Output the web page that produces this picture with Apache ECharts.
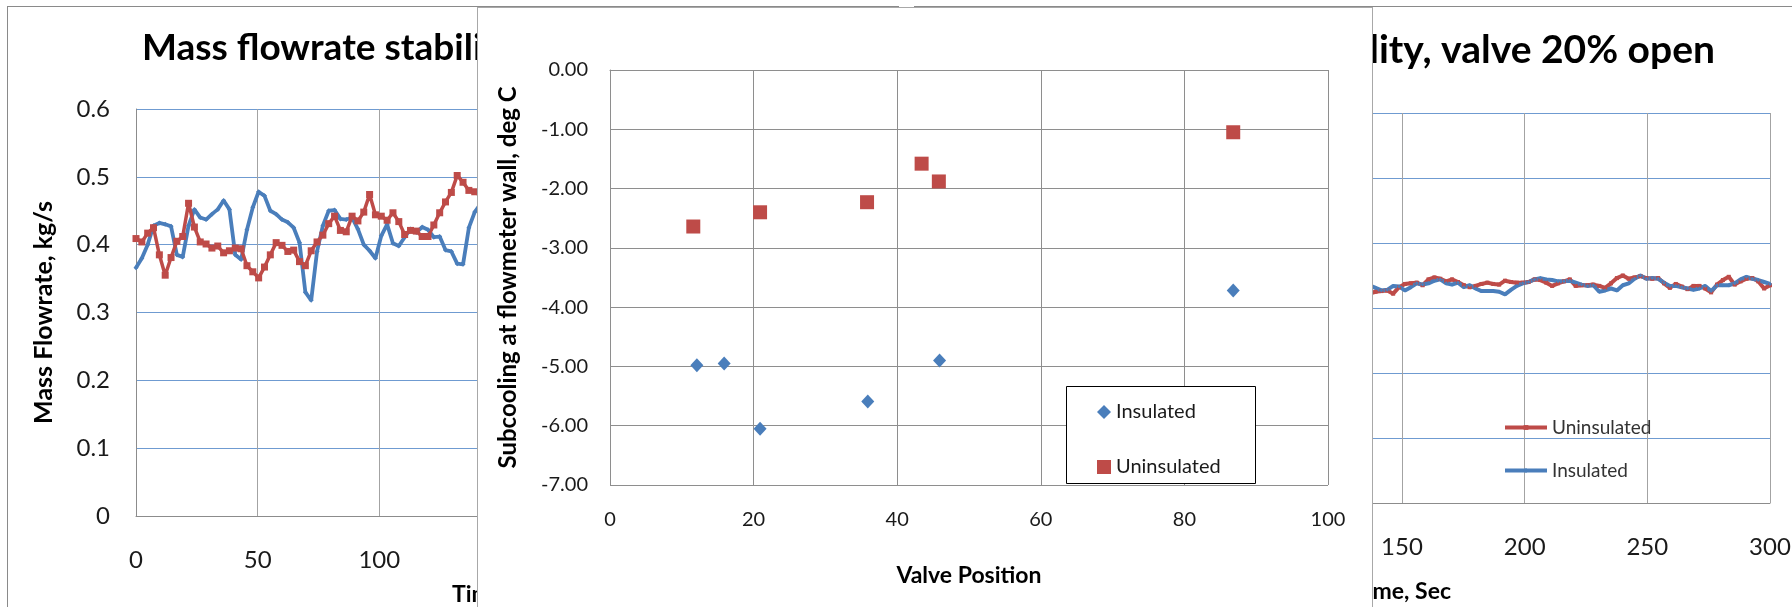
<!DOCTYPE html>
<html>
<head>
<meta charset="utf-8">
<title>Mass flowrate stability and flowmeter wall subcooling</title>
<script src="https://cdn.jsdelivr.net/npm/echarts@6/dist/echarts.min.js"></script>
<style>
  html, body { margin: 0; padding: 0; width: 1792px; height: 607px; overflow: hidden; background: #fff; }
  .panel { position: absolute; background: #fff; }
  #leftPanel { left: 7px; top: 6px; width: 890px; height: 640px; border: 1px solid #8a8a8a; }
  #rightPanel { left: 914px; top: 6px; width: 952px; height: 640px; border: 1px solid #8a8a8a; }
  #centerPanel { left: 477px; top: 7px; width: 894px; height: 640px; border: 1px solid #a8a8a8; }
  .chart { width: 100%; height: 100%; }
</style>
</head>
<body>
<div class="panel" id="leftPanel"><div class="chart" id="leftChart"></div></div>
<div class="panel" id="rightPanel"><div class="chart" id="rightChart"></div></div>
<div class="panel" id="centerPanel"><div class="chart" id="centerChart"></div></div>
<script>
// ---- time axis ticks (seconds) and flowrate ticks (kg/s) ----
const timeTicks = [0, 50, 100, 150, 200, 250, 300];
const flowTicks = [0, 0.1, 0.2, 0.3, 0.4, 0.5, 0.6];

// ---- first flowrate run ----
const runATime = [0, 2.4, 4.8, 7.2, 9.6, 12.0, 14.4, 16.8, 19.2, 21.6, 24.0, 26.4, 28.8, 31.2, 33.6,
  36.0, 38.4, 40.8, 43.2, 45.6, 48.0, 50.4, 52.8, 55.2, 57.6, 60.0, 62.4, 64.8, 67.2, 69.6,
  72.0, 74.4, 76.8, 79.2, 81.6, 84.0, 86.4, 88.8, 91.2, 93.6, 96.0, 98.4, 100.8, 103.2, 105.6,
  108.0, 110.4, 112.8, 115.2, 117.6, 120.0, 122.4, 124.8, 127.2, 129.6, 132.0, 134.4, 136.8, 139.2, 141.6];
const runAInsulated = [0.366, 0.380, 0.400, 0.428, 0.432, 0.430, 0.427, 0.385, 0.382, 0.428, 0.452, 0.440, 0.437, 0.445, 0.452,
  0.465, 0.452, 0.385, 0.378, 0.422, 0.455, 0.478, 0.472, 0.450, 0.445, 0.437, 0.433, 0.425, 0.403, 0.330,
  0.318, 0.390, 0.428, 0.450, 0.451, 0.438, 0.437, 0.440, 0.423, 0.400, 0.391, 0.380, 0.413, 0.430, 0.402,
  0.398, 0.411, 0.423, 0.418, 0.426, 0.422, 0.411, 0.412, 0.392, 0.390, 0.372, 0.371, 0.425, 0.448, 0.460];
const runAUninsulated = [0.409, 0.404, 0.417, 0.425, 0.385, 0.355, 0.381, 0.405, 0.412, 0.461, 0.426, 0.404, 0.401, 0.395, 0.398,
  0.388, 0.391, 0.395, 0.394, 0.369, 0.360, 0.351, 0.367, 0.385, 0.403, 0.399, 0.390, 0.392, 0.375, 0.369,
  0.391, 0.404, 0.414, 0.431, 0.442, 0.421, 0.419, 0.442, 0.435, 0.448, 0.474, 0.444, 0.442, 0.436, 0.447,
  0.434, 0.415, 0.421, 0.420, 0.412, 0.412, 0.429, 0.447, 0.463, 0.477, 0.502, 0.492, 0.480, 0.478, 0.472];

// ---- second flowrate run (valve 20% open) ----
const runBTime = [136.8, 139.2, 141.6, 144.0, 146.4, 148.8, 151.2, 153.6, 156.0, 158.4, 160.8, 163.2, 165.6, 168.0,
  170.4, 172.8, 175.2, 177.6, 180.0, 182.4, 184.8, 187.2, 189.6, 192.0, 194.4, 196.8, 199.2, 201.6,
  204.0, 206.4, 208.8, 211.2, 213.6, 216.0, 218.4, 220.8, 223.2, 225.6, 228.0, 230.4, 232.8, 235.2,
  237.6, 240.0, 242.4, 244.8, 247.2, 249.6, 252.0, 254.4, 256.8, 259.2, 261.6, 264.0, 266.4, 268.8,
  271.2, 273.6, 276.0, 278.4, 280.8, 283.2, 285.6, 288.0, 290.4, 292.8, 295.2, 297.6, 300.0];
const runBUninsulated = [0.322, 0.325, 0.326, 0.327, 0.322, 0.332, 0.337, 0.338, 0.339, 0.335, 0.344, 0.347, 0.345, 0.341,
  0.344, 0.340, 0.335, 0.332, 0.334, 0.337, 0.339, 0.337, 0.336, 0.342, 0.340, 0.339, 0.339, 0.340,
  0.344, 0.343, 0.339, 0.334, 0.338, 0.341, 0.344, 0.334, 0.335, 0.335, 0.336, 0.334, 0.331, 0.338,
  0.346, 0.350, 0.345, 0.347, 0.349, 0.346, 0.345, 0.346, 0.338, 0.331, 0.337, 0.333, 0.329, 0.334,
  0.334, 0.330, 0.324, 0.336, 0.343, 0.348, 0.336, 0.341, 0.345, 0.346, 0.341, 0.330, 0.335];
const runBInsulated = [0.335, 0.331, 0.327, 0.328, 0.334, 0.333, 0.327, 0.332, 0.338, 0.336, 0.338, 0.342, 0.344, 0.338,
  0.336, 0.339, 0.332, 0.335, 0.330, 0.326, 0.326, 0.326, 0.325, 0.321, 0.328, 0.334, 0.338, 0.340,
  0.344, 0.346, 0.344, 0.343, 0.341, 0.341, 0.342, 0.339, 0.336, 0.334, 0.335, 0.325, 0.327, 0.330,
  0.327, 0.335, 0.338, 0.345, 0.350, 0.345, 0.346, 0.345, 0.339, 0.334, 0.334, 0.332, 0.330, 0.328,
  0.330, 0.334, 0.326, 0.335, 0.335, 0.335, 0.338, 0.344, 0.348, 0.345, 0.343, 0.340, 0.337];

// ---- subcooling at flowmeter wall vs valve position ----
const valveTicks = [0, 20, 40, 60, 80, 100];
const subcoolTicks = [-7, -6, -5, -4, -3, -2, -1, 0];
const valveInsulated = [12.1, 15.9, 20.9, 35.9, 45.9, 86.8];
const subcoolInsulated = [-4.98, -4.95, -6.05, -5.59, -4.90, -3.72];
const valveUninsulated = [11.6, 20.9, 35.8, 43.4, 45.8, 86.8];
const subcoolUninsulated = [-2.64, -2.40, -2.23, -1.58, -1.88, -1.05];

// ---- shared styling ----
const BLUE = '#4A7EBB';
const RED = '#BE4B48';
const FONT = 'Lato';
const zip = (xs, ys) => xs.map((x, i) => [x, ys[i]]);
const step = t => t[1] - t[0];

function flowOption(cfg) {
  return {
    animation: false,
    title: Object.assign({
      text: 'Mass flowrate stability, valve 20% open',
      top: cfg.titleTop,
      padding: 0,
      textStyle: { fontFamily: FONT, fontWeight: 'bold', fontSize: cfg.titleSize, color: '#000' }
    }, cfg.titlePos),
    grid: cfg.grid,
    legend: cfg.legend,
    xAxis: {
      type: 'value',
      min: timeTicks[0], max: timeTicks[timeTicks.length - 1], interval: step(timeTicks),
      name: 'Time, Sec', nameLocation: 'middle', nameGap: cfg.xNameGap,
      nameTextStyle: { fontFamily: FONT, fontWeight: 'bold', fontSize: 23, color: '#000' },
      axisLine: { show: true, lineStyle: { color: '#8c8c8c', width: 1 } },
      axisTick: { show: false },
      axisLabel: { margin: 32, fontFamily: FONT, fontSize: 24, color: '#1a1a1a' },
      splitLine: { show: true, lineStyle: { color: '#a3a3a3', width: 1 } }
    },
    yAxis: {
      type: 'value',
      min: flowTicks[0], max: flowTicks[flowTicks.length - 1], interval: step(flowTicks),
      name: 'Mass Flowrate, kg/s', nameLocation: 'middle', nameGap: 80,
      nameTextStyle: { fontFamily: FONT, fontWeight: 'bold', fontSize: 25, color: '#000' },
      axisLine: { show: true, lineStyle: { color: '#8c8c8c', width: 1 } },
      axisTick: { show: false },
      axisLabel: { margin: 26, fontFamily: FONT, fontSize: 24, color: '#1a1a1a',
        formatter: v => (v === 0 ? '0' : v.toFixed(1)) },
      splitLine: { show: true, lineStyle: { color: '#6f9bd1', width: 1 } }
    },
    series: cfg.series
  };
}

function flowSeries(name, data, color, symbol, size, width) {
  return {
    name, type: 'line', data, showSymbol: true, symbol, symbolSize: size,
    lineStyle: { color, width },
    itemStyle: { color, opacity: 1 },
    emphasis: { disabled: true }
  };
}

// ---- first run chart (lower left) ----
const leftChart = echarts.init(document.getElementById('leftChart'), null, { renderer: 'canvas' });
leftChart.setOption(flowOption({
  titleTop: 23,
  titleSize: 37,
  titlePos: { left: 134 },
  grid: { left: 128, top: 102, width: 730, height: 407 },
  xNameGap: 67,
  legend: { show: false },
  series: [
    flowSeries('Insulated', zip(runATime, runAInsulated), BLUE, 'diamond', 5, 3.8),
    flowSeries('Uninsulated', zip(runATime, runAUninsulated), RED, 'rect', 7, 3.5)
  ]
}));

// ---- second run chart (right) ----
const rightChart = echarts.init(document.getElementById('rightChart'), null, { renderer: 'canvas' });
rightChart.setOption(flowOption({
  titleTop: 24,
  titleSize: 39,
  titlePos: { right: 152 },
  grid: { left: 119, top: 106, width: 736, height: 390 },
  xNameGap: 77,
  legend: {
    left: 588, top: 411, orient: 'vertical', padding: 0,
    itemWidth: 42, itemHeight: 6, itemGap: 24,
    lineStyle: { width: 4 },
    textStyle: { fontFamily: FONT, fontSize: 19, color: '#333' },
    data: ['Uninsulated', 'Insulated']
  },
  series: [
    flowSeries('Uninsulated', zip(runBTime, runBUninsulated), RED, 'rect', 4, 4),
    flowSeries('Insulated', zip(runBTime, runBInsulated), BLUE, 'diamond', 4, 4)
  ]
}));

// ---- subcooling scatter chart (front) ----
const centerChart = echarts.init(document.getElementById('centerChart'), null, { renderer: 'canvas' });
const gridGray = '#8e8e8e';
centerChart.setOption({
  animation: false,
  grid: { left: 132, top: 62, width: 718, height: 415 },
  graphic: [{
    type: 'rect', z: 3,
    shape: { x: 588.5, y: 378.5, width: 189, height: 97 },
    style: { fill: '#fff', stroke: '#000', lineWidth: 1 }
  }],
  legend: {
    left: 619, top: 394, orient: 'vertical', padding: 0, z: 5,
    itemWidth: 14, itemHeight: 14, itemGap: 35,
    textStyle: { fontFamily: FONT, fontSize: 20, color: '#1a1a1a' },
    data: [{ name: 'Insulated', icon: 'diamond' }, { name: 'Uninsulated', icon: 'rect' }]
  },
  xAxis: {
    type: 'value',
    min: valveTicks[0], max: valveTicks[valveTicks.length - 1], interval: step(valveTicks),
    name: 'Valve Position', nameLocation: 'middle', nameGap: 79,
    nameTextStyle: { fontFamily: FONT, fontWeight: 'bold', fontSize: 23, color: '#000' },
    axisLine: { show: true, lineStyle: { color: gridGray, width: 1 } },
    axisTick: { show: false },
    axisLabel: { margin: 25, fontFamily: FONT, fontSize: 20, color: '#1a1a1a' },
    splitLine: { show: true, lineStyle: { color: gridGray, width: 1 } }
  },
  yAxis: {
    type: 'value',
    min: subcoolTicks[0], max: subcoolTicks[subcoolTicks.length - 1], interval: step(subcoolTicks),
    name: 'Subcooling at flowmeter wall, deg C', nameLocation: 'middle', nameGap: 90,
    nameTextStyle: { fontFamily: FONT, fontWeight: 'bold', fontSize: 24, color: '#000' },
    axisLine: { show: true, lineStyle: { color: gridGray, width: 1 } },
    axisTick: { show: false },
    axisLabel: { margin: 22, fontFamily: FONT, fontSize: 20, color: '#1a1a1a',
      formatter: v => v.toFixed(2) },
    splitLine: { show: true, lineStyle: { color: gridGray, width: 1 } }
  },
  series: [
    { name: 'Insulated', type: 'scatter', symbol: 'diamond', symbolSize: [13, 14],
      data: zip(valveInsulated, subcoolInsulated), itemStyle: { color: BLUE, opacity: 1 }, emphasis: { disabled: true } },
    { name: 'Uninsulated', type: 'scatter', symbol: 'rect', symbolSize: 14,
      data: zip(valveUninsulated, subcoolUninsulated), itemStyle: { color: RED, opacity: 1 }, emphasis: { disabled: true } }
  ]
});
</script>
</body>
</html>
